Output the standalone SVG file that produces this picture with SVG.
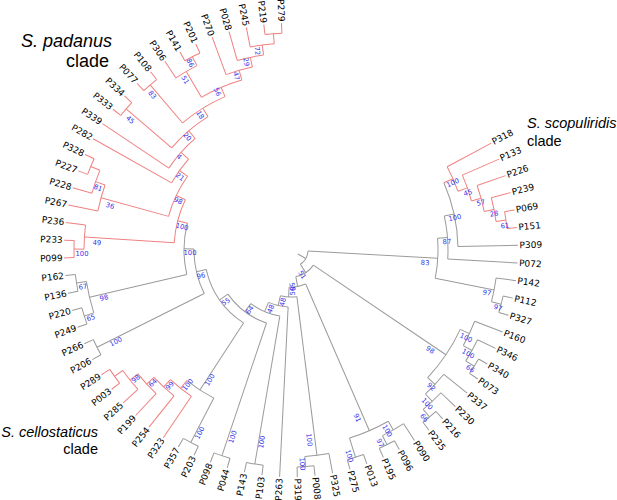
<svg xmlns="http://www.w3.org/2000/svg" width="617" height="500" viewBox="0 0 617 500">
<style>
.r line,.r circle{stroke:#f08080;fill:none;stroke-width:1}
.g line,.g circle{stroke:#9a9a9a;fill:none;stroke-width:1}
circle{fill:none}
.lf{font-family:"DejaVu Sans",Verdana,sans-serif;font-size:9px;fill:#000;dominant-baseline:central}
.e{text-anchor:end}
.bs{font-family:"DejaVu Sans",Verdana,sans-serif;font-size:6.8px;fill:#3333ee;text-anchor:middle;dominant-baseline:central}
.cl{font-family:"Liberation Sans",Arial,sans-serif;font-size:14.5px;fill:#000}
.big{font-size:18px}
</style>
<rect width="617" height="500" fill="#fff"/>
<g transform="translate(291,250)">
<g id="connectors">
<g class="r">
<line x1="217" x2="227" transform="rotate(267.60)"/>
<line x1="217" x2="227" transform="rotate(263.12)"/>
<line x1="207" x2="227" transform="rotate(258.64)"/>
<line x1="197" x2="227" transform="rotate(254.16)"/>
<line x1="187" x2="227" transform="rotate(249.68)"/>
<line x1="217" x2="227" transform="rotate(245.20)"/>
<line x1="217" x2="227" transform="rotate(240.72)"/>
<line x1="207" x2="227" transform="rotate(236.24)"/>
<line x1="217" x2="227" transform="rotate(231.76)"/>
<line x1="217" x2="227" transform="rotate(227.28)"/>
<line x1="217" x2="227" transform="rotate(222.80)"/>
<line x1="217" x2="227" transform="rotate(218.32)"/>
<line x1="147" x2="227" transform="rotate(213.84)"/>
<line x1="137" x2="227" transform="rotate(209.36)"/>
<line x1="217" x2="227" transform="rotate(204.88)"/>
<line x1="217" x2="227" transform="rotate(200.40)"/>
<line x1="207" x2="227" transform="rotate(195.92)"/>
<line x1="197" x2="227" transform="rotate(191.44)"/>
<line x1="207" x2="227" transform="rotate(186.96)"/>
<line x1="217" x2="227" transform="rotate(182.48)"/>
<line x1="217" x2="227" transform="rotate(178.00)"/>
<line x1="207" x2="217" transform="rotate(265.36)"/>
<line x1="197" x2="207" transform="rotate(262.00)"/>
<line x1="187" x2="197" transform="rotate(258.08)"/>
<line x1="177" x2="187" transform="rotate(253.88)"/>
<line x1="207" x2="217" transform="rotate(242.96)"/>
<line x1="177" x2="207" transform="rotate(239.60)"/>
<line x1="167" x2="177" transform="rotate(246.74)"/>
<line x1="167" x2="217" transform="rotate(229.52)"/>
<line x1="157" x2="167" transform="rotate(238.13)"/>
<line x1="157" x2="217" transform="rotate(220.56)"/>
<line x1="147" x2="157" transform="rotate(229.345)"/>
<line x1="137" x2="147" transform="rotate(221.59)"/>
<line x1="127" x2="137" transform="rotate(215.475)"/>
<line x1="207" x2="217" transform="rotate(202.64)"/>
<line x1="197" x2="207" transform="rotate(199.28)"/>
<line x1="127" x2="197" transform="rotate(195.36)"/>
<line x1="117" x2="127" transform="rotate(205.42)"/>
<line x1="207" x2="217" transform="rotate(180.24)"/>
<line x1="117" x2="207" transform="rotate(183.60)"/>
<line x1="107" x2="117" transform="rotate(194.51)"/>
<circle r="217" pathLength="360" stroke-dasharray="4.48 400" transform="rotate(263.12)"/>
<circle r="207" pathLength="360" stroke-dasharray="6.72 400" transform="rotate(258.64)"/>
<circle r="197" pathLength="360" stroke-dasharray="7.84 400" transform="rotate(254.16)"/>
<circle r="187" pathLength="360" stroke-dasharray="8.40 400" transform="rotate(249.68)"/>
<circle r="217" pathLength="360" stroke-dasharray="4.48 400" transform="rotate(240.72)"/>
<circle r="207" pathLength="360" stroke-dasharray="6.72 400" transform="rotate(236.24)"/>
<circle r="177" pathLength="360" stroke-dasharray="14.28 400" transform="rotate(239.60)"/>
<circle r="217" pathLength="360" stroke-dasharray="4.48 400" transform="rotate(227.28)"/>
<circle r="167" pathLength="360" stroke-dasharray="17.22 400" transform="rotate(229.52)"/>
<circle r="217" pathLength="360" stroke-dasharray="4.48 400" transform="rotate(218.32)"/>
<circle r="157" pathLength="360" stroke-dasharray="17.57 400" transform="rotate(220.56)"/>
<circle r="147" pathLength="360" stroke-dasharray="15.505 400" transform="rotate(213.84)"/>
<circle r="137" pathLength="360" stroke-dasharray="12.23 400" transform="rotate(209.36)"/>
<circle r="217" pathLength="360" stroke-dasharray="4.48 400" transform="rotate(200.40)"/>
<circle r="207" pathLength="360" stroke-dasharray="6.72 400" transform="rotate(195.92)"/>
<circle r="197" pathLength="360" stroke-dasharray="7.84 400" transform="rotate(191.44)"/>
<circle r="127" pathLength="360" stroke-dasharray="20.115 400" transform="rotate(195.36)"/>
<circle r="217" pathLength="360" stroke-dasharray="4.48 400" transform="rotate(178.00)"/>
<circle r="207" pathLength="360" stroke-dasharray="6.72 400" transform="rotate(180.24)"/>
<circle r="117" pathLength="360" stroke-dasharray="21.82 400" transform="rotate(183.60)"/>
<line x1="217" x2="227" transform="rotate(146.64)"/>
<line x1="217" x2="227" transform="rotate(142.16)"/>
<line x1="207" x2="227" transform="rotate(137.68)"/>
<line x1="197" x2="227" transform="rotate(133.20)"/>
<line x1="187" x2="227" transform="rotate(128.72)"/>
<line x1="177" x2="227" transform="rotate(124.24)"/>
<line x1="207" x2="217" transform="rotate(144.40)"/>
<line x1="197" x2="207" transform="rotate(141.04)"/>
<line x1="187" x2="197" transform="rotate(137.12)"/>
<line x1="177" x2="187" transform="rotate(132.92)"/>
<line x1="167" x2="177" transform="rotate(128.58)"/>
<circle r="217" pathLength="360" stroke-dasharray="4.48 400" transform="rotate(142.16)"/>
<circle r="207" pathLength="360" stroke-dasharray="6.72 400" transform="rotate(137.68)"/>
<circle r="197" pathLength="360" stroke-dasharray="7.84 400" transform="rotate(133.20)"/>
<circle r="187" pathLength="360" stroke-dasharray="8.40 400" transform="rotate(128.72)"/>
<circle r="177" pathLength="360" stroke-dasharray="8.68 400" transform="rotate(124.24)"/>
<line x1="217" x2="227" transform="rotate(-5.68)"/>
<line x1="217" x2="227" transform="rotate(-10.16)"/>
<line x1="207" x2="227" transform="rotate(-14.64)"/>
<line x1="197" x2="227" transform="rotate(-19.12)"/>
<line x1="187" x2="227" transform="rotate(-23.60)"/>
<line x1="177" x2="227" transform="rotate(-28.08)"/>
<line x1="207" x2="217" transform="rotate(-7.92)"/>
<line x1="197" x2="207" transform="rotate(-11.28)"/>
<line x1="187" x2="197" transform="rotate(-15.20)"/>
<line x1="177" x2="187" transform="rotate(-19.40)"/>
<line x1="167" x2="177" transform="rotate(-23.74)"/>
<circle r="217" pathLength="360" stroke-dasharray="4.48 400" transform="rotate(-10.16)"/>
<circle r="207" pathLength="360" stroke-dasharray="6.72 400" transform="rotate(-14.64)"/>
<circle r="197" pathLength="360" stroke-dasharray="7.84 400" transform="rotate(-19.12)"/>
<circle r="187" pathLength="360" stroke-dasharray="8.40 400" transform="rotate(-23.60)"/>
<circle r="177" pathLength="360" stroke-dasharray="8.68 400" transform="rotate(-28.08)"/>
</g>
<g class="g">
<line x1="217" x2="227" transform="rotate(173.52)"/>
<line x1="217" x2="227" transform="rotate(169.04)"/>
<line x1="217" x2="227" transform="rotate(164.56)"/>
<line x1="217" x2="227" transform="rotate(160.08)"/>
<line x1="217" x2="227" transform="rotate(155.60)"/>
<line x1="217" x2="227" transform="rotate(151.12)"/>
<line x1="207" x2="217" transform="rotate(171.28)"/>
<line x1="207" x2="217" transform="rotate(162.32)"/>
<line x1="107" x2="207" transform="rotate(166.80)"/>
<line x1="97" x2="107" transform="rotate(180.655)"/>
<line x1="97" x2="217" transform="rotate(153.36)"/>
<line x1="87" x2="97" transform="rotate(167.01)"/>
<circle r="217" pathLength="360" stroke-dasharray="4.48 400" transform="rotate(169.04)"/>
<circle r="217" pathLength="360" stroke-dasharray="4.48 400" transform="rotate(160.08)"/>
<circle r="207" pathLength="360" stroke-dasharray="8.96 400" transform="rotate(162.32)"/>
<circle r="107" pathLength="360" stroke-dasharray="27.71 400" transform="rotate(166.80)"/>
<circle r="217" pathLength="360" stroke-dasharray="4.48 400" transform="rotate(151.12)"/>
<circle r="97" pathLength="360" stroke-dasharray="27.295 400" transform="rotate(153.36)"/>
<line x1="217" x2="227" transform="rotate(119.76)"/>
<line x1="217" x2="227" transform="rotate(115.28)"/>
<line x1="167" x2="217" transform="rotate(117.52)"/>
<line x1="87" x2="167" transform="rotate(123.05)"/>
<line x1="77" x2="87" transform="rotate(145.03)"/>
<circle r="217" pathLength="360" stroke-dasharray="4.48 400" transform="rotate(115.28)"/>
<circle r="167" pathLength="360" stroke-dasharray="11.06 400" transform="rotate(117.52)"/>
<circle r="87" pathLength="360" stroke-dasharray="43.96 400" transform="rotate(123.05)"/>
<line x1="217" x2="227" transform="rotate(110.80)"/>
<line x1="217" x2="227" transform="rotate(106.32)"/>
<line x1="77" x2="217" transform="rotate(108.56)"/>
<line x1="67" x2="77" transform="rotate(126.795)"/>
<line x1="217" x2="227" transform="rotate(101.84)"/>
<line x1="217" x2="227" transform="rotate(97.36)"/>
<line x1="67" x2="217" transform="rotate(99.60)"/>
<line x1="57" x2="67" transform="rotate(113.1975)"/>
<line x1="57" x2="227" transform="rotate(92.88)"/>
<line x1="47" x2="57" transform="rotate(103.04)"/>
<line x1="217" x2="227" transform="rotate(88.40)"/>
<line x1="217" x2="227" transform="rotate(83.92)"/>
<line x1="207" x2="217" transform="rotate(86.16)"/>
<line x1="207" x2="227" transform="rotate(79.44)"/>
<line x1="47" x2="207" transform="rotate(82.80)"/>
<line x1="37" x2="47" transform="rotate(92.92)"/>
<line x1="217" x2="227" transform="rotate(74.96)"/>
<line x1="217" x2="227" transform="rotate(70.48)"/>
<line x1="217" x2="227" transform="rotate(66.00)"/>
<line x1="217" x2="227" transform="rotate(61.52)"/>
<line x1="207" x2="227" transform="rotate(57.04)"/>
<line x1="197" x2="217" transform="rotate(72.72)"/>
<line x1="207" x2="217" transform="rotate(63.76)"/>
<line x1="197" x2="207" transform="rotate(60.40)"/>
<line x1="37" x2="197" transform="rotate(66.56)"/>
<line x1="27" x2="37" transform="rotate(79.74)"/>
<line x1="217" x2="227" transform="rotate(52.56)"/>
<line x1="217" x2="227" transform="rotate(48.08)"/>
<line x1="207" x2="227" transform="rotate(43.60)"/>
<line x1="197" x2="227" transform="rotate(39.12)"/>
<line x1="217" x2="227" transform="rotate(34.64)"/>
<line x1="217" x2="227" transform="rotate(30.16)"/>
<line x1="207" x2="227" transform="rotate(25.68)"/>
<line x1="197" x2="227" transform="rotate(21.20)"/>
<line x1="207" x2="217" transform="rotate(50.32)"/>
<line x1="197" x2="207" transform="rotate(46.96)"/>
<line x1="187" x2="197" transform="rotate(43.04)"/>
<line x1="207" x2="217" transform="rotate(32.40)"/>
<line x1="197" x2="207" transform="rotate(29.04)"/>
<line x1="187" x2="197" transform="rotate(25.12)"/>
<line x1="27" x2="187" transform="rotate(34.08)"/>
<line x1="17" x2="27" transform="rotate(56.91)"/>
<circle r="217" pathLength="360" stroke-dasharray="4.48 400" transform="rotate(106.32)"/>
<circle r="77" pathLength="360" stroke-dasharray="36.47 400" transform="rotate(108.56)"/>
<circle r="217" pathLength="360" stroke-dasharray="4.48 400" transform="rotate(97.36)"/>
<circle r="67" pathLength="360" stroke-dasharray="27.195 400" transform="rotate(99.60)"/>
<circle r="57" pathLength="360" stroke-dasharray="20.3175 400" transform="rotate(92.88)"/>
<circle r="217" pathLength="360" stroke-dasharray="4.48 400" transform="rotate(83.92)"/>
<circle r="207" pathLength="360" stroke-dasharray="6.72 400" transform="rotate(79.44)"/>
<circle r="47" pathLength="360" stroke-dasharray="20.24 400" transform="rotate(82.80)"/>
<circle r="217" pathLength="360" stroke-dasharray="4.48 400" transform="rotate(70.48)"/>
<circle r="217" pathLength="360" stroke-dasharray="4.48 400" transform="rotate(61.52)"/>
<circle r="207" pathLength="360" stroke-dasharray="6.72 400" transform="rotate(57.04)"/>
<circle r="197" pathLength="360" stroke-dasharray="12.32 400" transform="rotate(60.40)"/>
<circle r="37" pathLength="360" stroke-dasharray="26.36 400" transform="rotate(66.56)"/>
<circle r="217" pathLength="360" stroke-dasharray="4.48 400" transform="rotate(48.08)"/>
<circle r="207" pathLength="360" stroke-dasharray="6.72 400" transform="rotate(43.60)"/>
<circle r="197" pathLength="360" stroke-dasharray="7.84 400" transform="rotate(39.12)"/>
<circle r="217" pathLength="360" stroke-dasharray="4.48 400" transform="rotate(30.16)"/>
<circle r="207" pathLength="360" stroke-dasharray="6.72 400" transform="rotate(25.68)"/>
<circle r="197" pathLength="360" stroke-dasharray="7.84 400" transform="rotate(21.20)"/>
<circle r="187" pathLength="360" stroke-dasharray="17.92 400" transform="rotate(25.12)"/>
<circle r="27" pathLength="360" stroke-dasharray="45.66 400" transform="rotate(34.08)"/>
<line x1="217" x2="227" transform="rotate(16.72)"/>
<line x1="217" x2="227" transform="rotate(12.24)"/>
<line x1="207" x2="227" transform="rotate(7.76)"/>
<line x1="207" x2="217" transform="rotate(14.48)"/>
<line x1="147" x2="207" transform="rotate(11.12)"/>
<line x1="157" x2="227" transform="rotate(3.28)"/>
<line x1="167" x2="227" transform="rotate(-1.20)"/>
<line x1="157" x2="167" transform="rotate(-12.47)"/>
<line x1="147" x2="157" transform="rotate(-4.595)"/>
<line x1="17" x2="147" transform="rotate(3.2625)"/>
<line x1="8" x2="17" transform="rotate(30.09)"/>
<circle r="217" pathLength="360" stroke-dasharray="4.48 400" transform="rotate(12.24)"/>
<circle r="207" pathLength="360" stroke-dasharray="6.72 400" transform="rotate(7.76)"/>
<circle r="167" pathLength="360" stroke-dasharray="22.54 400" transform="rotate(-23.74)"/>
<circle r="157" pathLength="360" stroke-dasharray="15.75 400" transform="rotate(-12.47)"/>
<circle r="147" pathLength="360" stroke-dasharray="15.715 400" transform="rotate(-4.595)"/>
<circle r="17" pathLength="360" stroke-dasharray="53.6475 400" transform="rotate(3.2625)"/>
</g>
</g>
<g id="leaves" class="lf">
<g id="leaf-P279"><text class="e" x="-228.5" transform="rotate(87.60)">P279</text></g>
<g id="leaf-P219"><text class="e" x="-228.5" transform="rotate(83.12)">P219</text></g>
<g id="leaf-P245"><text class="e" x="-228.5" transform="rotate(78.64)">P245</text></g>
<g id="leaf-P028"><text class="e" x="-228.5" transform="rotate(74.16)">P028</text></g>
<g id="leaf-P270"><text class="e" x="-228.5" transform="rotate(69.68)">P270</text></g>
<g id="leaf-P201"><text class="e" x="-228.5" transform="rotate(65.20)">P201</text></g>
<g id="leaf-P141"><text class="e" x="-228.5" transform="rotate(60.72)">P141</text></g>
<g id="leaf-P306"><text class="e" x="-228.5" transform="rotate(56.24)">P306</text></g>
<g id="leaf-P108"><text class="e" x="-228.5" transform="rotate(51.76)">P108</text></g>
<g id="leaf-P077"><text class="e" x="-228.5" transform="rotate(47.28)">P077</text></g>
<g id="leaf-P334"><text class="e" x="-228.5" transform="rotate(42.80)">P334</text></g>
<g id="leaf-P333"><text class="e" x="-228.5" transform="rotate(38.32)">P333</text></g>
<g id="leaf-P339"><text class="e" x="-228.5" transform="rotate(33.84)">P339</text></g>
<g id="leaf-P282"><text class="e" x="-228.5" transform="rotate(29.36)">P282</text></g>
<g id="leaf-P328"><text class="e" x="-228.5" transform="rotate(24.88)">P328</text></g>
<g id="leaf-P227"><text class="e" x="-228.5" transform="rotate(20.40)">P227</text></g>
<g id="leaf-P228"><text class="e" x="-228.5" transform="rotate(15.92)">P228</text></g>
<g id="leaf-P267"><text class="e" x="-228.5" transform="rotate(11.44)">P267</text></g>
<g id="leaf-P236"><text class="e" x="-228.5" transform="rotate(6.96)">P236</text></g>
<g id="leaf-P233"><text class="e" x="-228.5" transform="rotate(2.48)">P233</text></g>
<g id="leaf-P099"><text class="e" x="-228.5" transform="rotate(-2.00)">P099</text></g>
<g id="leaf-P162"><text class="e" x="-228.5" transform="rotate(-6.48)">P162</text></g>
<g id="leaf-P136"><text class="e" x="-228.5" transform="rotate(-10.96)">P136</text></g>
<g id="leaf-P220"><text class="e" x="-228.5" transform="rotate(-15.44)">P220</text></g>
<g id="leaf-P249"><text class="e" x="-228.5" transform="rotate(-19.92)">P249</text></g>
<g id="leaf-P266"><text class="e" x="-228.5" transform="rotate(-24.40)">P266</text></g>
<g id="leaf-P206"><text class="e" x="-228.5" transform="rotate(-28.88)">P206</text></g>
<g id="leaf-P289"><text class="e" x="-228.5" transform="rotate(-33.36)">P289</text></g>
<g id="leaf-P003"><text class="e" x="-228.5" transform="rotate(-37.84)">P003</text></g>
<g id="leaf-P285"><text class="e" x="-228.5" transform="rotate(-42.32)">P285</text></g>
<g id="leaf-P199"><text class="e" x="-228.5" transform="rotate(-46.80)">P199</text></g>
<g id="leaf-P254"><text class="e" x="-228.5" transform="rotate(-51.28)">P254</text></g>
<g id="leaf-P323"><text class="e" x="-228.5" transform="rotate(-55.76)">P323</text></g>
<g id="leaf-P357"><text class="e" x="-228.5" transform="rotate(-60.24)">P357</text></g>
<g id="leaf-P203"><text class="e" x="-228.5" transform="rotate(-64.72)">P203</text></g>
<g id="leaf-P098"><text class="e" x="-228.5" transform="rotate(-69.20)">P098</text></g>
<g id="leaf-P044"><text class="e" x="-228.5" transform="rotate(-73.68)">P044</text></g>
<g id="leaf-P143"><text class="e" x="-228.5" transform="rotate(-78.16)">P143</text></g>
<g id="leaf-P103"><text class="e" x="-228.5" transform="rotate(-82.64)">P103</text></g>
<g id="leaf-P263"><text class="e" x="-228.5" transform="rotate(-87.12)">P263</text></g>
<g id="leaf-P319"><text x="228.5" transform="rotate(88.40)">P319</text></g>
<g id="leaf-P008"><text x="228.5" transform="rotate(83.92)">P008</text></g>
<g id="leaf-P325"><text x="228.5" transform="rotate(79.44)">P325</text></g>
<g id="leaf-P275"><text x="228.5" transform="rotate(74.96)">P275</text></g>
<g id="leaf-P013"><text x="228.5" transform="rotate(70.48)">P013</text></g>
<g id="leaf-P195"><text x="228.5" transform="rotate(66.00)">P195</text></g>
<g id="leaf-P096"><text x="228.5" transform="rotate(61.52)">P096</text></g>
<g id="leaf-P090"><text x="228.5" transform="rotate(57.04)">P090</text></g>
<g id="leaf-P235"><text x="228.5" transform="rotate(52.56)">P235</text></g>
<g id="leaf-P216"><text x="228.5" transform="rotate(48.08)">P216</text></g>
<g id="leaf-P230"><text x="228.5" transform="rotate(43.60)">P230</text></g>
<g id="leaf-P337"><text x="228.5" transform="rotate(39.12)">P337</text></g>
<g id="leaf-P073"><text x="228.5" transform="rotate(34.64)">P073</text></g>
<g id="leaf-P340"><text x="228.5" transform="rotate(30.16)">P340</text></g>
<g id="leaf-P346"><text x="228.5" transform="rotate(25.68)">P346</text></g>
<g id="leaf-P160"><text x="228.5" transform="rotate(21.20)">P160</text></g>
<g id="leaf-P327"><text x="228.5" transform="rotate(16.72)">P327</text></g>
<g id="leaf-P112"><text x="228.5" transform="rotate(12.24)">P112</text></g>
<g id="leaf-P142"><text x="228.5" transform="rotate(7.76)">P142</text></g>
<g id="leaf-P072"><text x="228.5" transform="rotate(3.28)">P072</text></g>
<g id="leaf-P309"><text x="228.5" transform="rotate(-1.20)">P309</text></g>
<g id="leaf-P151"><text x="228.5" transform="rotate(-5.68)">P151</text></g>
<g id="leaf-P069"><text x="228.5" transform="rotate(-10.16)">P069</text></g>
<g id="leaf-P239"><text x="228.5" transform="rotate(-14.64)">P239</text></g>
<g id="leaf-P226"><text x="228.5" transform="rotate(-19.12)">P226</text></g>
<g id="leaf-P133"><text x="228.5" transform="rotate(-23.60)">P133</text></g>
<g id="leaf-P318"><text x="228.5" transform="rotate(-28.08)">P318</text></g>
</g>
</g>
<g id="supports" class="bs">
<text x="257" y="51" transform="rotate(82.00 257 51)">72</text>
<text x="246" y="62" transform="rotate(78.08 246 62)">29</text>
<text x="236" y="76" transform="rotate(73.88 236 76)">47</text>
<text x="190" y="63" transform="rotate(62.96 190 63)">86</text>
<text x="185" y="80" transform="rotate(59.60 185 80)">51</text>
<text x="217" y="92" transform="rotate(66.74 217 92)">56</text>
<text x="152" y="95" transform="rotate(49.52 152 95)">83</text>
<text x="200" y="115" transform="rotate(58.13 200 115)">18</text>
<text x="130" y="120" transform="rotate(40.56 130 120)">45</text>
<text x="187" y="137" transform="rotate(49.345 187 137)">20</text>
<text x="179" y="157" transform="rotate(41.59 179 157)">4</text>
<text x="180" y="177" transform="rotate(35.475 180 177)">21</text>
<text x="98" y="188" transform="rotate(19.28 98 188)">81</text>
<text x="110" y="206" transform="rotate(15.36 110 206)">36</text>
<text x="178" y="201" transform="rotate(25.42 178 201)">98</text>
<text x="82" y="254" transform="rotate(0.24 82 254)">100</text>
<text x="97" y="243" transform="rotate(3.60 97 243)">49</text>
<text x="182" y="227" transform="rotate(14.51 182 227)">100</text>
<text x="83" y="287" transform="rotate(-8.72 83 287)">67</text>
<text x="104" y="298" transform="rotate(-13.20 104 298)">98</text>
<text x="91" y="318" transform="rotate(-17.68 91 318)">65</text>
<text x="116" y="342" transform="rotate(-26.64 116 342)">100</text>
<text x="190" y="253" transform="rotate(0.655 190 253)">100</text>
<text x="201" y="276" transform="rotate(-12.99 201 276)">96</text>
<text x="136" y="379" transform="rotate(-38.96 136 379)">98</text>
<text x="153" y="383" transform="rotate(-42.88 153 383)">64</text>
<text x="170" y="386" transform="rotate(-47.08 170 386)">99</text>
<text x="188" y="385" transform="rotate(-51.42 188 385)">100</text>
<text x="200" y="433" transform="rotate(-62.48 200 433)">100</text>
<text x="210" y="380" transform="rotate(-56.95 210 380)">100</text>
<text x="226" y="302" transform="rotate(-34.97 226 302)">55</text>
<text x="233" y="437" transform="rotate(-71.44 233 437)">100</text>
<text x="250" y="310" transform="rotate(-53.205 250 310)">64</text>
<text x="262" y="442" transform="rotate(-80.40 262 442)">100</text>
<text x="271" y="309" transform="rotate(-66.80 271 309)">48</text>
<text x="283" y="302" transform="rotate(-76.96 283 302)">48</text>
<text x="302" y="464" transform="rotate(86.16 302 464)">100</text>
<text x="309" y="440" transform="rotate(82.80 309 440)">100</text>
<text x="293" y="291" transform="rotate(-87.08 293 291)">58</text>
<text x="292" y="287" transform="rotate(79.74 292 287)">55</text>
<text x="349" y="456" transform="rotate(72.72 349 456)">100</text>
<text x="380" y="443" transform="rotate(63.76 380 443)">97</text>
<text x="387" y="431" transform="rotate(60.40 387 431)">100</text>
<text x="357" y="418" transform="rotate(66.56 357 418)">91</text>
<text x="302" y="275" transform="rotate(56.91 302 275)">51</text>
<text x="424" y="418" transform="rotate(50.32 424 418)">66</text>
<text x="427" y="404" transform="rotate(46.96 427 404)">100</text>
<text x="431" y="387" transform="rotate(43.04 431 387)">92</text>
<text x="470" y="369" transform="rotate(32.40 470 369)">66</text>
<text x="468" y="354" transform="rotate(29.04 468 354)">100</text>
<text x="466" y="338" transform="rotate(25.12 466 338)">100</text>
<text x="430" y="350" transform="rotate(34.08 430 350)">98</text>
<text x="498" y="308" transform="rotate(14.48 498 308)">97</text>
<text x="487" y="293" transform="rotate(11.12 487 293)">97</text>
<text x="505" y="226" transform="rotate(-7.92 505 226)">61</text>
<text x="494" y="214" transform="rotate(-11.28 494 214)">28</text>
<text x="481" y="203" transform="rotate(-15.20 481 203)">57</text>
<text x="468" y="193" transform="rotate(-19.40 468 193)">45</text>
<text x="453" y="183" transform="rotate(-23.74 453 183)">100</text>
<text x="455" y="218" transform="rotate(-12.47 455 218)">100</text>
<text x="447" y="242" transform="rotate(-4.595 447 242)">87</text>
<text x="425" y="263" transform="rotate(3.2625 425 263)">83</text>
</g>
<g id="clade-labels" class="cl">
<text class="big" x="21" y="47" font-style="italic">S. padanus</text>
<text class="big" x="109" y="67" text-anchor="end">clade</text>
<text x="527" y="128" font-style="italic">S. scopuliridis</text>
<text x="527" y="146">clade</text>
<text x="98" y="437" font-style="italic" text-anchor="end">S. cellostaticus</text>
<text x="98" y="454" text-anchor="end">clade</text>
</g>
</svg>
